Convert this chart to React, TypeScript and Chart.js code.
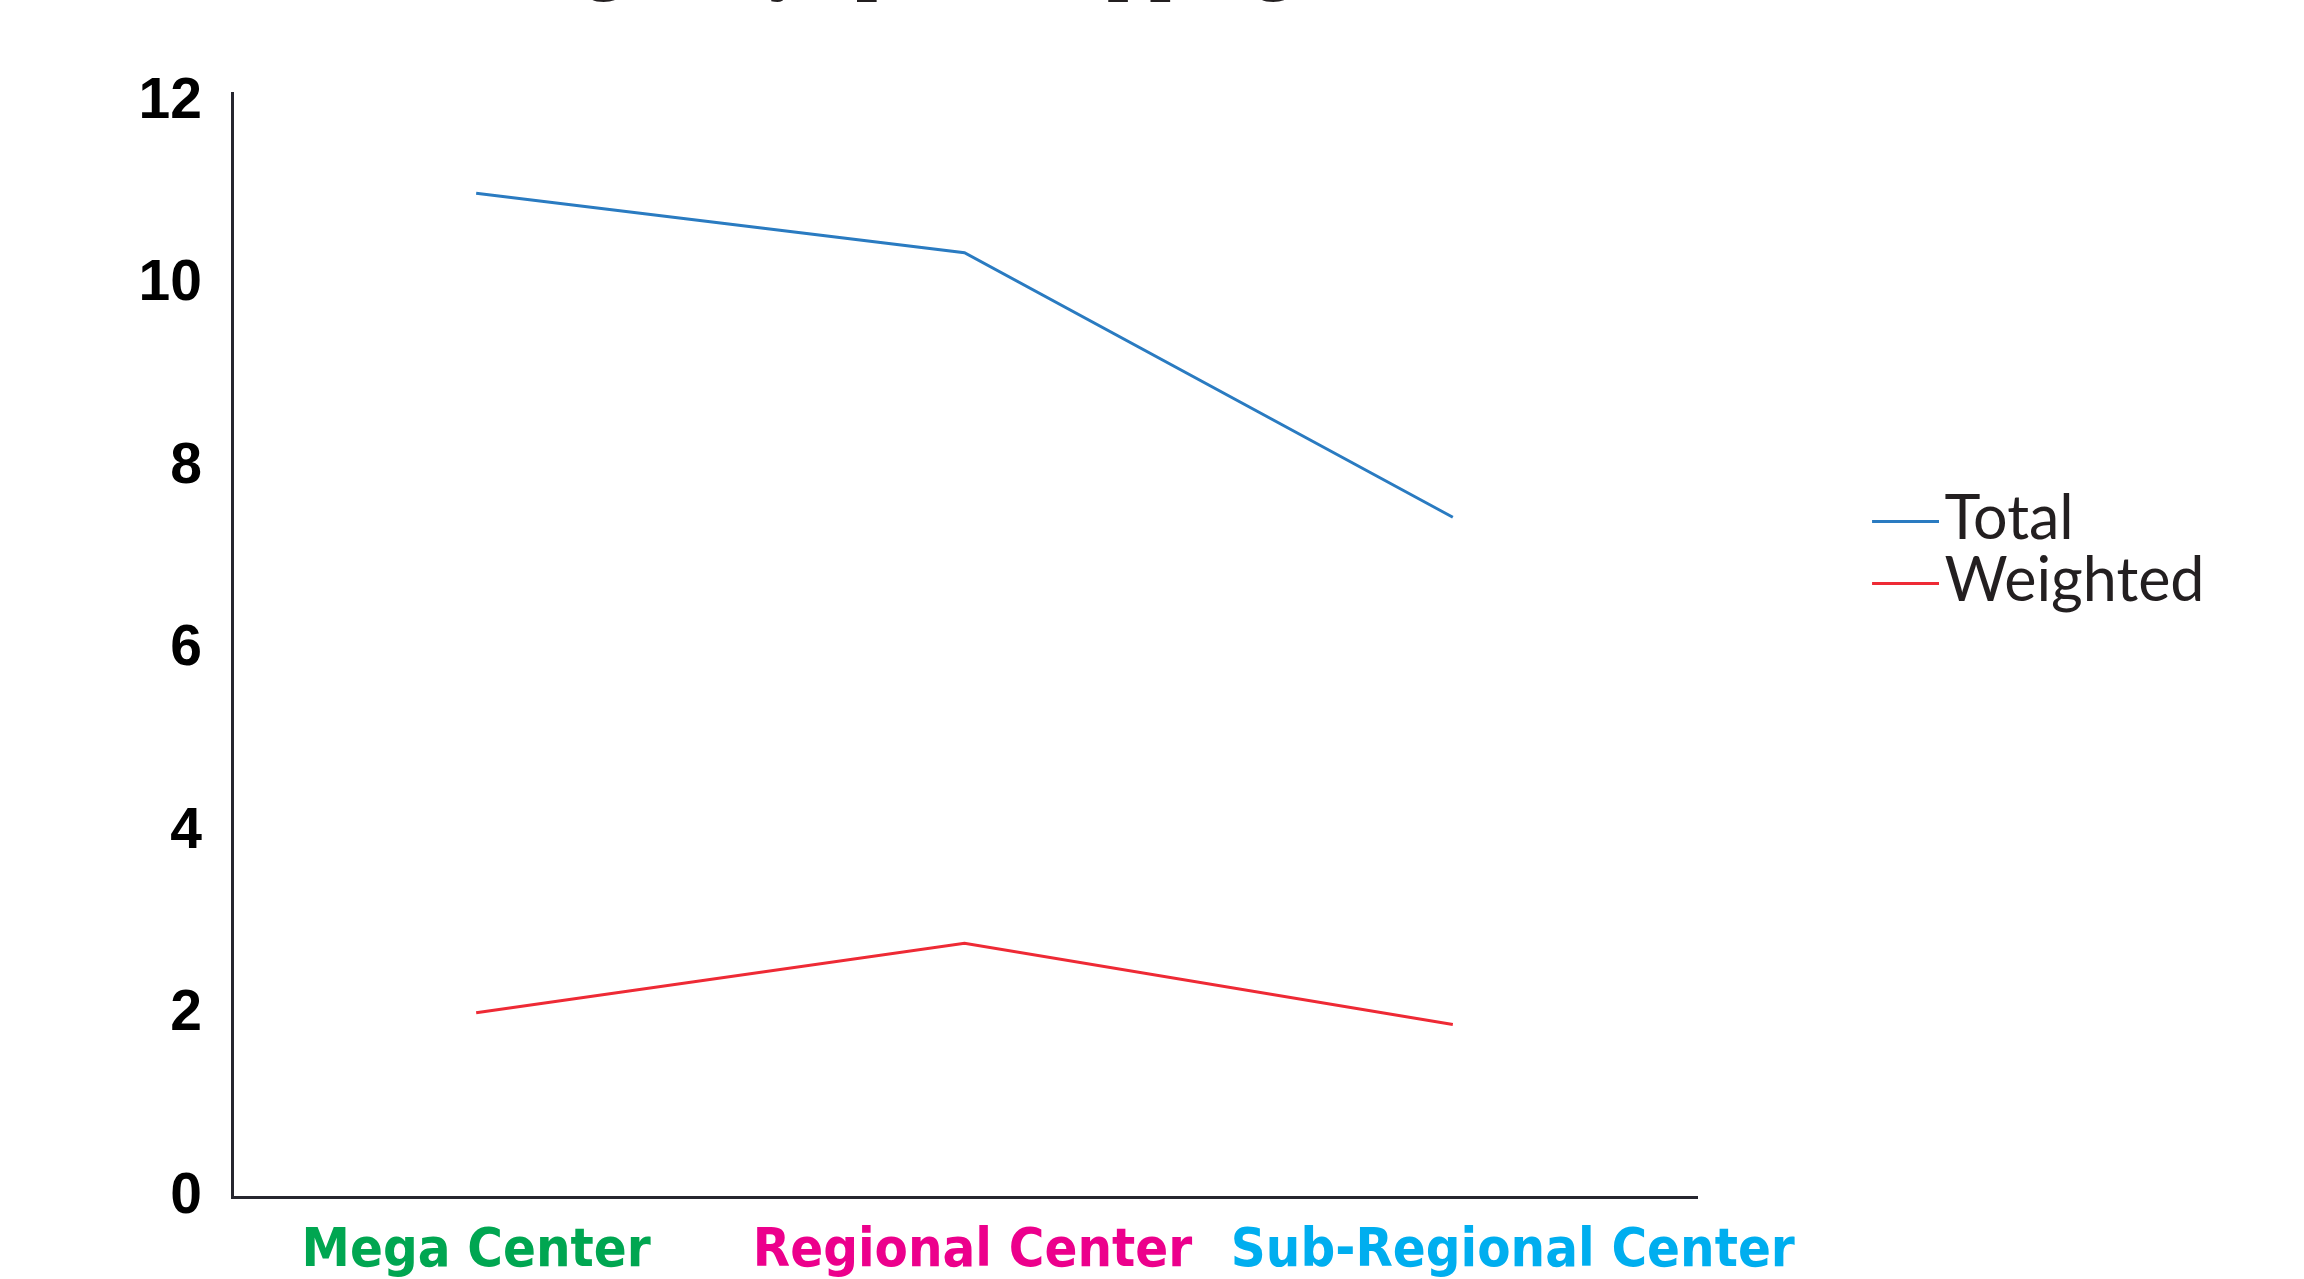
import React, { useEffect, useRef } from 'react';
import { Chart, registerables } from 'chart.js';

Chart.register(...registerables);

// ---- data ----
const TITLE = 'Average Days per Shopping Center';
const categories = ['Mega Center', 'Regional Center', 'Sub-Regional Center'];
const categoryColors = ['#00A651', '#EC008C', '#00AEEF'];
const seriesNames = ['Total', 'Weighted'];
const seriesColors = ['#2A7BC1', '#EE2A35'];
const totalValues = [11.0, 10.35, 7.45];
const weightedValues = [2.02, 2.78, 1.89];
const yTicks = [0, 2, 4, 6, 8, 10, 12];

// ---- layout constants ----
const W = 2304;
const H = 1380;
const OFFSET_TOP = 89;
const AREA_LEFT = 232;
const AREA_RIGHT = 1697;
const AREA_BOTTOM = 1286;
const PAD_R = 89.5;
const AXIS_COLOR = '#26262f';
const TEXT_DARK = '#231F20';
const X_LABEL_SHIFT = [0, 8, 60];
const LEGEND_BOX = 42;
const LEGEND_LINE = 67;

function legendLine(color: string): HTMLCanvasElement {
  // asymmetric image: visible line starts at the legend item's left edge
  const c = document.createElement('canvas');
  const half = LEGEND_LINE - LEGEND_BOX / 2;
  c.width = Math.round(half * 2);
  c.height = 20;
  const ctx = c.getContext('2d');
  if (ctx) {
    ctx.fillStyle = color;
    ctx.fillRect(half - LEGEND_BOX / 2, 11, LEGEND_LINE, 3);
  }
  return c;
}

const shiftLabels = {
  id: 'shiftLabels',
  beforeDraw(chart: any) {
    const sc = chart.scales.x;
    if (!sc || typeof sc.getLabelItems !== 'function') return;
    const items = sc.getLabelItems();
    items.forEach((it: any, i: number) => {
      if (!it.__shifted) {
        it.options.translation[0] += X_LABEL_SHIFT[i] || 0;
        it.__shifted = true;
      }
    });
  },
};

export default function App() {
  const ref = useRef<HTMLCanvasElement>(null);

  useEffect(() => {
    const canvas = ref.current;
    if (!canvas) return;
    const lineImages = seriesColors.map(legendLine);
    const chart = new Chart(canvas, {
      type: 'line',
      data: {
        labels: categories,
        datasets: [
          {
            label: seriesNames[0],
            data: totalValues,
            borderColor: seriesColors[0],
            backgroundColor: seriesColors[0],
            borderWidth: 3,
            pointRadius: 0,
            pointHoverRadius: 0,
            tension: 0,
            fill: false,
          },
          {
            label: seriesNames[1],
            data: weightedValues,
            borderColor: seriesColors[1],
            backgroundColor: seriesColors[1],
            borderWidth: 3,
            pointRadius: 0,
            pointHoverRadius: 0,
            tension: 0,
            fill: false,
          },
        ],
      },
      plugins: [shiftLabels],
      options: {
        responsive: false,
        animation: false,
        devicePixelRatio: 1,
        layout: { padding: { top: 0, left: 0, right: PAD_R, bottom: 0 } },
        plugins: {
          tooltip: { enabled: false },
          title: {
            display: true,
            text: TITLE,
            fullSize: false,
            color: TEXT_DARK,
            font: { family: '"Liberation Serif", "Times New Roman", serif', size: 76, weight: 'bold', lineHeight: 1.2 },
            padding: { top: 10, bottom: 80.8 },
          },
          legend: {
            display: true,
            position: 'right',
            align: 'start',
            maxWidth: 600,
            title: {
              display: true,
              text: ' ',
              font: { size: 10, lineHeight: 1 },
              padding: { top: 566.5, bottom: 0 },
            },
            labels: {
              usePointStyle: true,
              pointStyleWidth: LEGEND_BOX,
              padding: 1,
              color: TEXT_DARK,
              font: { family: 'Lato, "Open Sans", sans-serif', size: 61, weight: 'normal', lineHeight: 1 },
              generateLabels: (ch: any) => {
                const items = Chart.defaults.plugins.legend.labels.generateLabels(ch);
                return items.map((it: any, i: number) => ({ ...it, pointStyle: lineImages[i % lineImages.length] }));
              },
            },
          },
        },
        scales: {
          x: {
            type: 'category',
            offset: true,
            grid: { display: false, drawTicks: false },
            border: { display: true, color: AXIS_COLOR, width: 3 },
            ticks: {
              color: (c: any) => categoryColors[c.index % categoryColors.length],
              font: { family: '"DejaVu Sans Condensed", "Liberation Sans", sans-serif', size: 54, weight: 'bold', lineHeight: 1.2 },
              padding: 23,
              autoSkip: false,
              maxRotation: 0,
              minRotation: 0,
            },
            afterFit: (s: any) => {
              s.height = H - AREA_BOTTOM;
            },
          },
          y: {
            type: 'linear',
            min: 0,
            max: 12.1,
            grid: { display: false, drawTicks: false },
            border: { display: true, color: AXIS_COLOR, width: 3 },
            ticks: {
              color: '#000000',
              font: { family: '"Liberation Sans", Arial, sans-serif', size: 57, weight: 'bold', lineHeight: 1.2 },
              padding: 30,
            },
            afterBuildTicks: (s: any) => {
              s.ticks = yTicks.map((v) => ({ value: v }));
            },
            afterFit: (s: any) => {
              s.width = AREA_LEFT;
            },
          },
          gap: {
            type: 'linear',
            position: 'right',
            display: true,
            grid: { display: false, drawTicks: false },
            border: { display: false },
            ticks: { display: false },
            afterFit: (s: any) => {
              const lg = s.chart.legend;
              const lw = lg ? lg.width : 0;
              s.width = Math.max(0, s.chart.width - PAD_R - lw - AREA_RIGHT);
            },
          },
        },
      },
    });
    return () => chart.destroy();
  }, []);

  return (
    <div
      style={{
        position: 'fixed',
        left: 0,
        top: 0,
        width: W,
        height: 1279,
        overflow: 'hidden',
        background: '#ffffff',
      }}
    >
      <canvas
        ref={ref}
        width={W}
        height={H}
        style={{ position: 'absolute', left: 0, top: -OFFSET_TOP, width: W, height: H }}
      />
    </div>
  );
}
